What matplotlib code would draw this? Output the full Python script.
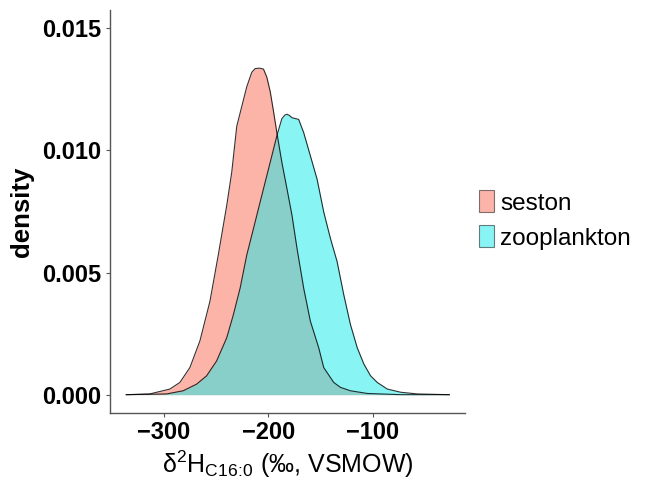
import matplotlib
matplotlib.use("Agg")
import matplotlib.pyplot as plt
from matplotlib.patches import Patch

plt.rcParams['font.family'] = ['Liberation Sans', 'DejaVu Sans']
plt.rcParams['mathtext.fontset'] = 'custom'
plt.rcParams['mathtext.rm'] = 'Liberation Sans'
plt.rcParams['mathtext.it'] = 'Liberation Sans:italic'
plt.rcParams['mathtext.bf'] = 'Liberation Sans:bold'

groups = ["seston", "zooplankton"]

seston_x = [-335.9, -313.5, -294.2, -284.6, -275.0, -265.4, -255.8, -247.8, -239.7,
            -234.9, -230.1, -225.3, -220.5, -215.7, -212.5, -208.5, -204.5, -201.3, -198.0,
            -194.9, -191.7, -186.9, -182.0, -177.2, -172.4, -166.0, -159.6, -151.6,
            -146.8, -137.2, -130.8, -121.2, -105.1, -73.1, -26.6]
seston_y = [0.0, 0.00003, 0.00023, 0.0005, 0.00111, 0.0022, 0.00382, 0.00572, 0.00775,
            0.00911, 0.01099, 0.0118, 0.01261, 0.01320, 0.01335, 0.01337, 0.01333, 0.01300, 0.01240,
            0.01160, 0.01073, 0.00951, 0.00843, 0.00734, 0.00599, 0.00436, 0.00301, 0.00192,
            0.00111, 0.0005, 0.0003, 0.00016, 0.00005, 0.0, 0.0]

zoo_x = [-335.9, -297.4, -281.4, -268.6, -259.0, -249.4, -239.7, -233.3, -226.9,
         -220.5, -214.1, -207.7, -201.3, -196.5, -191.7, -186.9, -184.0, -182.0, -179.5, -177.2,
         -170.8, -166.0, -159.6, -153.2, -146.8, -140.4, -134.0, -127.6, -121.2,
         -114.7, -108.3, -101.9, -95.5, -85.9, -73.1, -57.0, -26.6]
zoo_y = [0.0, 0.00003, 0.00016, 0.00043, 0.00077, 0.00138, 0.00233, 0.00328, 0.00436,
         0.00572, 0.0068, 0.00789, 0.00897, 0.00978, 0.0106, 0.01130, 0.01145, 0.01148, 0.01143, 0.01134,
         0.01127, 0.01073, 0.00978, 0.00883, 0.00748, 0.0064, 0.00545, 0.00409, 0.00287,
         0.00192, 0.00125, 0.00077, 0.0005, 0.00023, 0.0001, 0.00003, 0.0]

x_ticks = [-300, -200, -100]
y_ticks = [0.000, 0.005, 0.010, 0.015]

fills = ["#FB6B55", "#15EBEB"]

fig = plt.figure(figsize=(6.45, 4.8), dpi=100)
ax = fig.add_axes([110/645, 1 - 413/480, (465-110)/645, (413-10)/480])

for xs, ys, c in [(seston_x, seston_y, fills[0]), (zoo_x, zoo_y, fills[1])]:
    ax.fill_between(xs, 0, ys, color=c, alpha=0.5, linewidth=0)
    ax.plot(xs, ys, color="black", linewidth=0.8, alpha=0.8, solid_joinstyle="round")

ax.set_xlim(-351.5, -11.5)
ax.set_ylim(-0.00075, 0.01575)
ax.set_xticks(x_ticks)
ax.set_xticklabels([f"\u2212{abs(v)}" for v in x_ticks])
ax.set_yticks(y_ticks)
ax.set_yticklabels([f"{v:.3f}" for v in y_ticks])

for s in ["top", "right"]:
    ax.spines[s].set_visible(False)
for s in ["left", "bottom"]:
    ax.spines[s].set_color("#555555")
    ax.spines[s].set_linewidth(1.0)

ax.tick_params(axis="both", length=3, width=0.8, color="#555555", labelsize=17,
               labelcolor="black", pad=3)
for lab in ax.get_xticklabels() + ax.get_yticklabels():
    lab.set_fontweight("bold")

ax.set_ylabel("density", fontsize=18.5, fontweight="bold", labelpad=6)
ax.set_xlabel(r"$\mathrm{\delta^2H_{C16\!:\!0}}$ (‰, VSMOW)", fontsize=18, labelpad=3)

handles = [Patch(facecolor=fills[i], alpha=0.5, edgecolor="black", linewidth=0.8, label=g)
           for i, g in enumerate(groups)]
leg = fig.legend(handles=handles, loc="center left", bbox_to_anchor=(479/645, 1 - 220/480),
                 frameon=False, fontsize=17.5, handlelength=0.62, handleheight=1.0,
                 handletextpad=0.25, labelspacing=0.45, borderaxespad=0, borderpad=0)
for p in leg.get_patches():
    p.set_edgecolor("black")

fig.savefig("out.png", dpi=100)
